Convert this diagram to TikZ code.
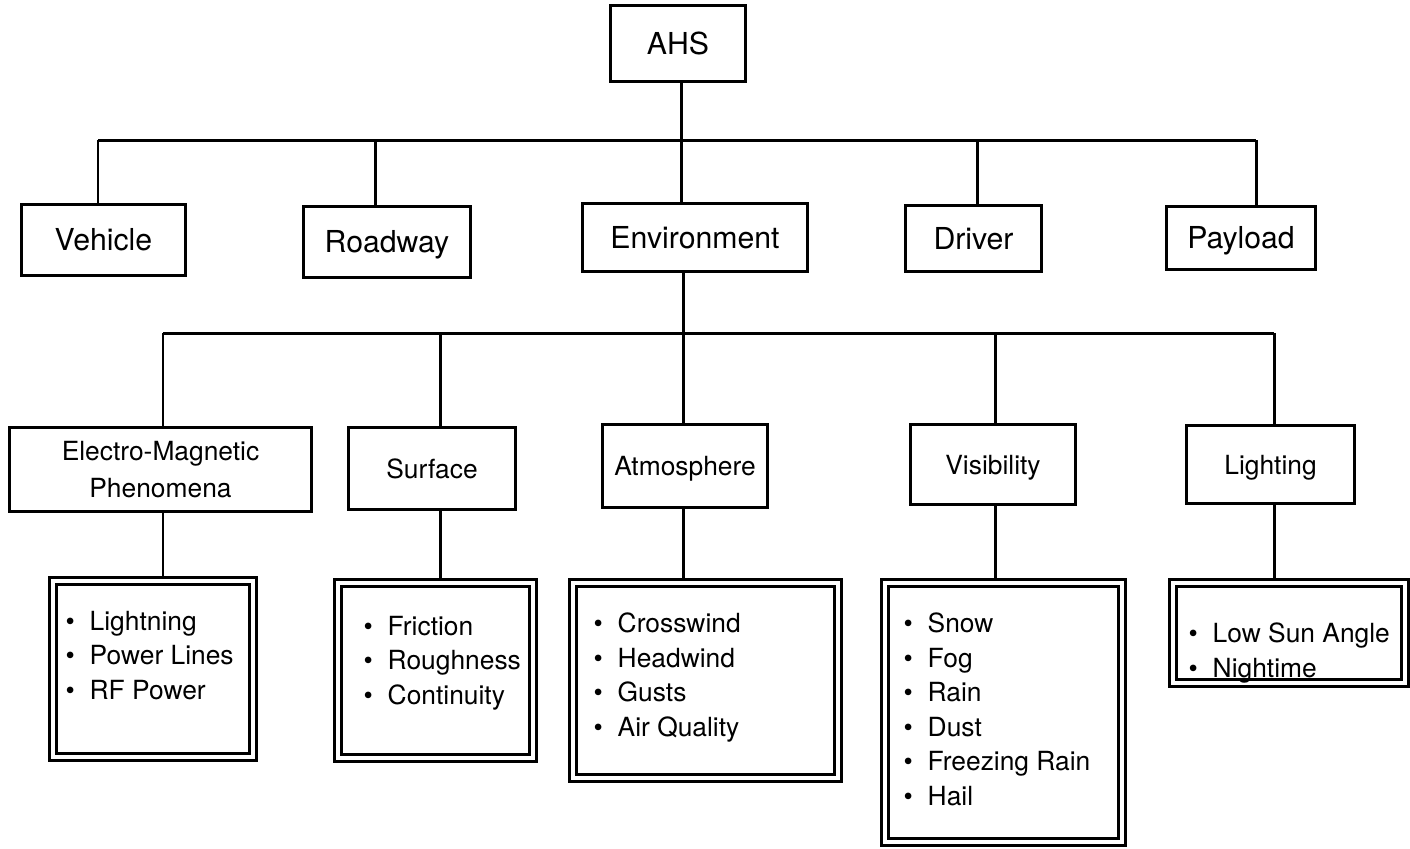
\documentclass[tikz,border=0pt]{standalone}
\usepackage{fontspec}
\setmainfont{TeX Gyre Heros}
\usetikzlibrary{backgrounds}
\newcommand\itm[1]{\makebox[0.24cm][l]{\textbullet}#1}
\begin{document}
\begin{tikzpicture}[x=0.01cm,y=-0.01cm,
  box/.style={draw, line width=0.85pt, inner sep=0pt, align=center},
  mainbox/.style={box, font=\fontsize{8.6}{10}\selectfont, text height=6.2pt, text depth=0pt},
  subbox/.style={box, font=\fontsize{7.5}{10.5}\selectfont},
  oneline/.style={text height=5.4pt, text depth=0pt},
  listbox/.style={draw, double, double distance=0.044cm, line width=0.75pt, inner sep=0pt},
  listtext/.style={anchor=north west, inner sep=0pt, align=left, font=\fontsize{7.5}{9.8}\selectfont},
  link/.style={line width=0.85pt}]
\useasboundingbox (0,0) rectangle (1410,848);

% root
\node[mainbox, minimum width=1.34cm, minimum height=0.75cm] (ahs) at (678,43.5) {AHS};

% first level
\node[mainbox, minimum width=1.63cm, minimum height=0.70cm] (veh)  at (103.5,240) {Vehicle};
\node[mainbox, minimum width=1.66cm, minimum height=0.70cm] (road) at (387,242)   {Roadway};
\node[mainbox, minimum width=2.24cm, minimum height=0.67cm] (env)  at (695,237.5) {Environment};
\node[mainbox, minimum width=1.35cm, minimum height=0.65cm] (drv)  at (973.5,238.5) {Driver};
\node[mainbox, minimum width=1.48cm, minimum height=0.62cm] (pay)  at (1241,238)  {Payload};

% environment factors
\node[subbox, minimum width=3.01cm, minimum height=0.83cm] (em)   at (160.5,469.5) {Electro-Magnetic\\Phenomena};
\node[subbox, oneline, minimum width=1.66cm, minimum height=0.81cm] (surf) at (432,468.5)   {Surface};
\node[subbox, oneline, minimum width=1.64cm, minimum height=0.82cm] (atm)  at (685,466)     {Atmosphere};
\node[subbox, oneline, minimum width=1.64cm, minimum height=0.79cm] (vis)  at (993,464.5)   {Visibility};
\node[subbox, oneline, minimum width=1.67cm, minimum height=0.77cm] (lit)  at (1270.5,464.5) {Lighting};

% detail lists
\node[listbox, minimum width=2.00cm,  minimum height=1.764cm] (emL)   at (153,669)    {};
\node[listbox, minimum width=1.954cm, minimum height=1.754cm] (surfL) at (435.5,670.5) {};
\node[listbox, minimum width=2.654cm, minimum height=1.954cm] (atmL)  at (705.5,680.5) {};
\node[listbox, minimum width=2.374cm, minimum height=2.594cm] (visL)  at (1003.5,712.5) {};
\node[listbox, minimum width=2.324cm, minimum height=1.004cm] (litL)  at (1289,633)   {};

\node[listtext] (emT)   at (65,610.5)  {\itm{Lightning}\\\itm{Power Lines}\\\itm{RF Power}};
\node[listtext] (surfT) at (363,615.5) {\itm{Friction}\\\itm{Roughness}\\\itm{Continuity}};
\node[listtext] (atmT)  at (593,612.5) {\itm{Crosswind}\\\itm{Headwind}\\\itm{Gusts}\\\itm{Air Quality}};
\node[listtext] (visT)  at (903,612.5) {\itm{Snow}\\\itm{Fog}\\\itm{Rain}\\\itm{Dust}\\\itm{Freezing Rain}\\\itm{Hail}};
\node[listtext] (litT)  at (1188,622.5) {\itm{Low Sun Angle}\\\itm{Nightime}};

% junctions on the two buses
\coordinate (b1ahs)  at (681,140);
\coordinate (b1veh)  at (98,140);
\coordinate (b1road) at (375,140);
\coordinate (b1env)  at (681,140);
\coordinate (b1drv)  at (977,140);
\coordinate (b1pay)  at (1256,140);
\coordinate (b2env)  at (683,333);
\coordinate (b2em)   at (163,333);
\coordinate (b2surf) at (440,333);
\coordinate (b2atm)  at (683,333);
\coordinate (b2vis)  at (995,333);
\coordinate (b2lit)  at (1274,333);

\begin{scope}[on background layer]
  \draw[link] (ahs.south -| b1ahs) -- (b1ahs);
  \draw[link] (b1veh) -- (b1pay);
  \foreach \n in {veh,road,env,drv,pay}
    \draw[link] (b1\n) -- (b1\n |- \n.north);
  \draw[link] (env.south -| b2env) -- (b2env);
  \draw[link] (b2em) -- (b2lit);
  \foreach \n in {em,surf,atm,vis,lit} {
    \draw[link] (b2\n) -- (b2\n |- \n.north);
    \draw[link] (\n.south -| b2\n) -- (\n L.north -| b2\n);
  }
\end{scope}
\end{tikzpicture}
\end{document}
